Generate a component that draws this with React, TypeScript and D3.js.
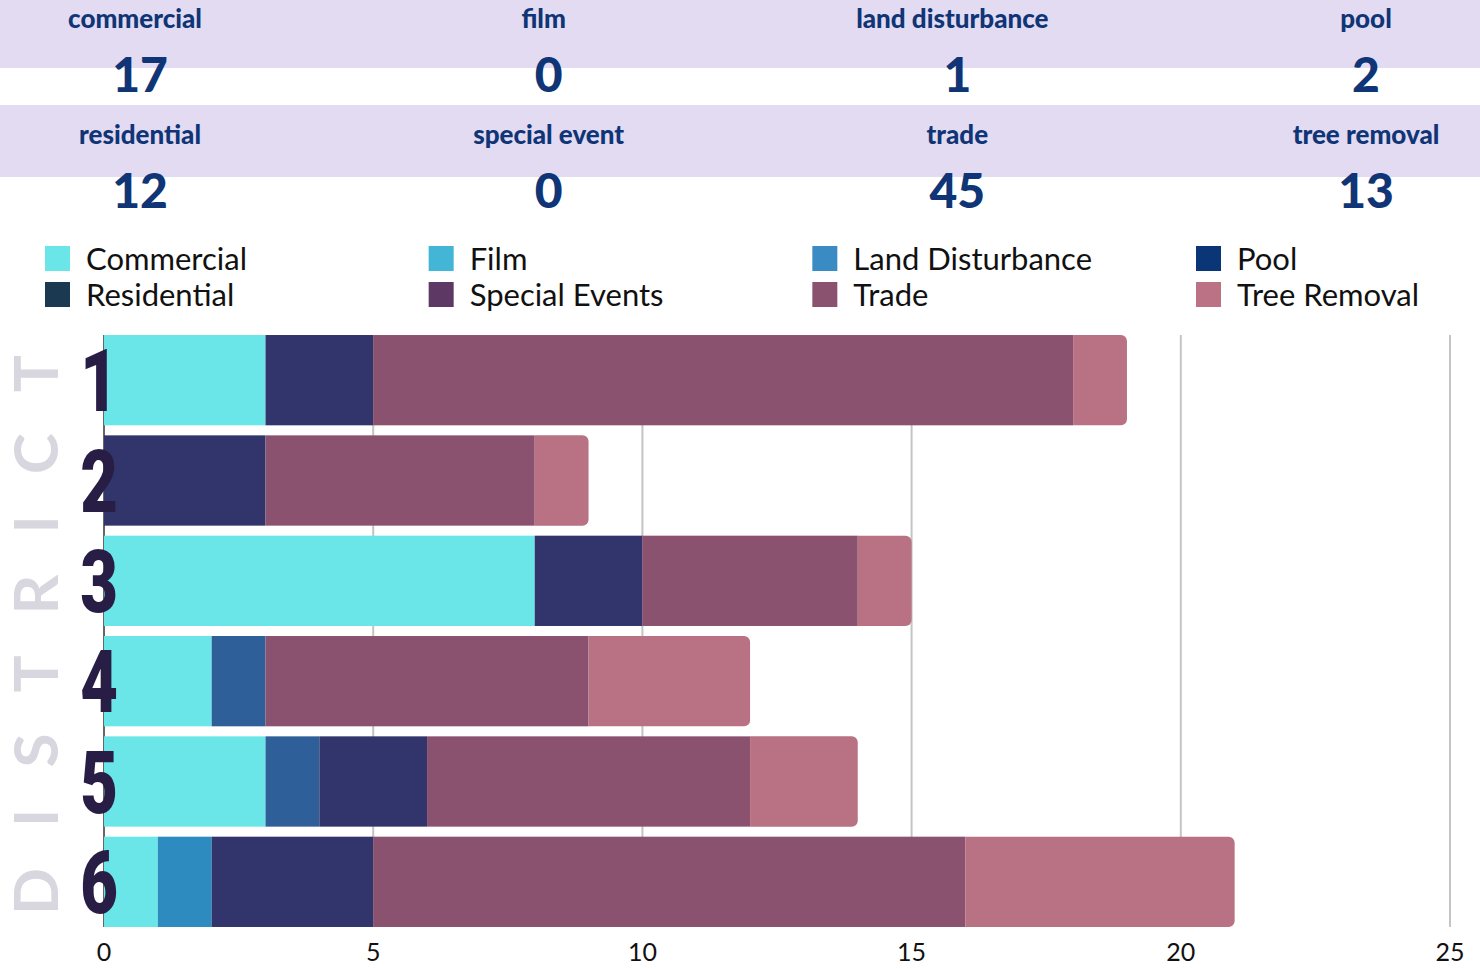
import * as d3 from "d3";

const districts = ["1", "2", "3", "4", "5", "6"];
const seriesNames = ["Commercial", "Film", "Land Disturbance", "Pool", "Residential", "Special Events", "Trade", "Tree Removal"];
const summaryLabels = ["commercial", "film", "land disturbance", "pool", "residential", "special event", "trade", "tree removal"];

const commercial = [3, 0, 8, 2, 3, 1];
const film = [0, 0, 0, 0, 0, 0];
const landDisturbance = [0, 0, 0, 0, 0, 1];
const pool = [0, 0, 0, 1, 1, 0];
const residential = [2, 3, 2, 0, 2, 3];
const specialEvents = [0, 0, 0, 0, 0, 0];
const trade = [13, 5, 4, 6, 6, 11];
const treeRemoval = [1, 1, 1, 3, 2, 5];

const seriesValues = [commercial, film, landDisturbance, pool, residential, specialEvents, trade, treeRemoval];
const legendColors = ["#6be6e8", "#43b6d6", "#3a8bc4", "#0a3577", "#1b3a52", "#5e3864", "#8b5270", "#bb7284"];
const barColors = ["#6ae6e8", "#43b6d6", "#2e8bbf", "#2e5f99", "#31356b", "#5e3864", "#8b5270", "#b87283"];
const xTicks = [0, 5, 10, 15, 20, 25];

const W = 1480;
const H = 969;
const navy = "#0f3576";

// right-rounded rect
function roundRight(x0: number, y: number, w: number, h: number, r: number) {
  const p = d3.path();
  p.moveTo(x0, y);
  p.lineTo(x0 + w - r, y);
  p.arcTo(x0 + w, y, x0 + w, y + r, r);
  p.lineTo(x0 + w, y + h - r);
  p.arcTo(x0 + w, y + h, x0 + w - r, y + h, r);
  p.lineTo(x0, y + h);
  p.closePath();
  return p.toString();
}

export default function App() {
  const x = d3.scaleLinear().domain([0, 25]).range([104, 1450]);
  const y = d3.scaleBand().domain(districts).range([330, 932]).paddingInner(0.1).paddingOuter(0.05);

  const table = districts.map((d, i) => {
    const row: Record<string, any> = { district: d };
    seriesNames.forEach((s, j) => (row[s] = seriesValues[j][i]));
    return row;
  });
  const stacked = d3.stack<any>().keys(seriesNames)(table);

  // last non-empty segment per district gets the rounded end
  const lastKey = districts.map((_, i) => {
    let k = -1;
    seriesValues.forEach((v, j) => { if (v[i] > 0) k = j; });
    return k;
  });

  const totals = seriesValues.map((v) => d3.sum(v));
  const colX = d3.scalePoint<number>().domain([0, 1, 2, 3]).range([140, 1366]);
  const legX = d3.scalePoint<number>().domain([0, 1, 2, 3]).range([45, 1196]);

  return (
    <svg width={W} height={H} style={{ position: "absolute", left: 0, top: 0, background: "#fff" }}>
      {/* summary bands */}
      <rect x={0} y={0} width={W} height={68} fill="#e2dbf2" />
      <rect x={0} y={105} width={W} height={72} fill="#e2dbf2" />
      {summaryLabels.map((lab, i) => {
        const row = Math.floor(i / 4);
        const cx = colX(i % 4)!;
        const shift = row === 0 && i % 4 < 3 ? -5 : 0;
        return (
          <g key={lab}>
            <text x={cx + shift} y={row === 0 ? 28 : 144} textAnchor="middle" fontFamily="Lato, sans-serif" fontWeight={900}
              fontSize={26} fill={navy}>{lab}</text>
            <text x={cx} y={row === 0 ? 92 : 208} textAnchor="middle" fontFamily="Lato, sans-serif" fontWeight={900}
              fontSize={48} fill={navy}>{totals[i]}</text>
          </g>
        );
      })}

      {/* legend */}
      {seriesNames.map((s, i) => {
        const lx = legX(i % 4)!;
        const ly = i < 4 ? 246 : 282;
        return (
          <g key={s}>
            <rect x={lx} y={ly} width={25} height={25} fill={legendColors[i]} />
            <text x={lx + 41} y={ly + 24} fontFamily="Lato, sans-serif" fontSize={31} fill="#111">{s}</text>
          </g>
        );
      })}

      {/* grid */}
      {xTicks.slice(1).map((t) => (
        <line key={t} x1={x(t)} x2={x(t)} y1={335} y2={927} stroke="#c4c4c4" strokeWidth={2} />
      ))}
      <line x1={x(0)} x2={x(0)} y1={335} y2={927} stroke="#666" strokeWidth={2} />

      {/* bars */}
      {stacked.map((layer, j) => (
        <g key={layer.key} fill={barColors[j]}>
          {layer.map((seg, i) => {
            if (seg[1] - seg[0] <= 0) return null;
            const x0 = x(seg[0]);
            const w = x(seg[1]) - x0;
            const yy = y(districts[i])!;
            const h = y.bandwidth();
            return lastKey[i] === j
              ? <path key={i} d={roundRight(x0, yy, w, h, 6)} />
              : <rect key={i} x={x0} y={yy} width={w} height={h} />;
          })}
        </g>
      ))}

      {/* district numbers */}
      {districts.map((d) => {
        const cy = y(d)! + y.bandwidth() / 2;
        return (
          <text key={d} transform={`translate(99,${cy + 31}) scale(0.74,1)`} textAnchor="middle"
            fontFamily="Roboto, sans-serif" fontWeight={900} fontSize={88} fill="#281d45">{d}</text>
        );
      })}

      {/* vertical axis title */}
      <text transform="translate(58,915) rotate(-90)" fontFamily="Lato, sans-serif" fontWeight={700} fontSize={62}
        fill="#d8d6de" textLength={560} lengthAdjust="spacing">DISTRICT</text>

      {/* x tick labels */}
      {xTicks.map((t) => (
        <text key={t} x={x(t)} y={961} textAnchor="middle" fontFamily="Lato, sans-serif" fontSize={25} fill="#111">{t}</text>
      ))}
    </svg>
  );
}
